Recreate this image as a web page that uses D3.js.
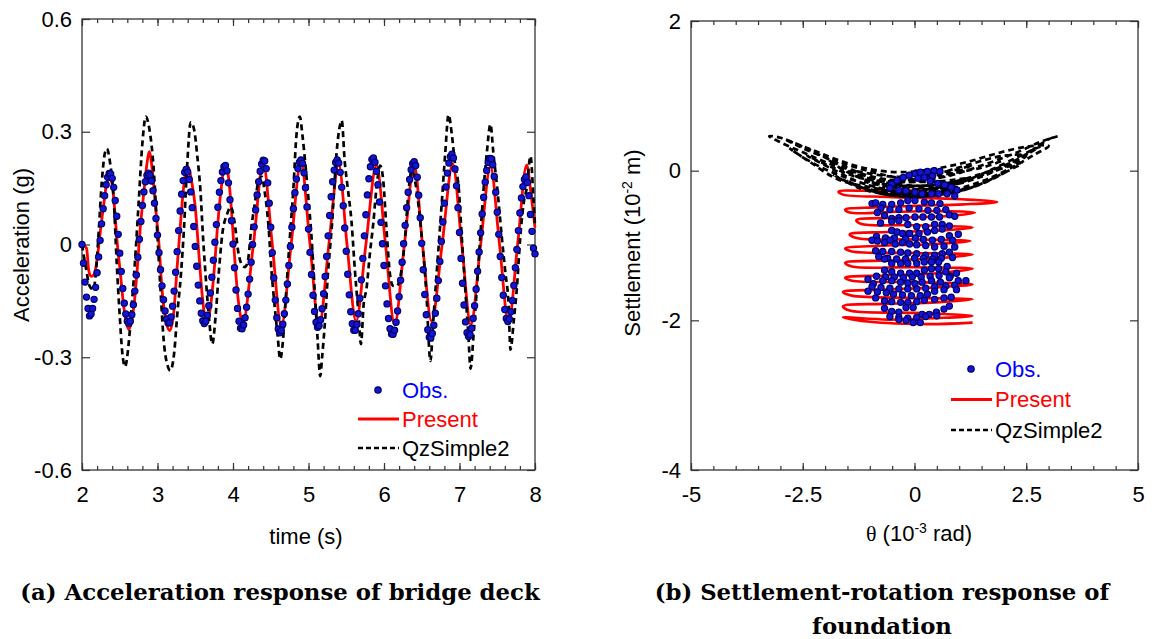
<!DOCTYPE html>
<html>
<head>
<meta charset="utf-8">
<script src="https://cdn.jsdelivr.net/npm/d3@7"></script>
<style>
  body { margin: 0; background: #fff; }
</style>
</head>
<body>
<svg></svg>
<script>
const size = {w: 1152, h: 639};

// ---------- (a) acceleration of bridge deck ----------
// observed record, sampled every 0.02 s from t = 2 s
const obsStart = 2.0, obsStep = 0.02;
const obsAcc = [
  0.000,-0.050,-0.100,-0.140,-0.170,-0.190,-0.185,-0.170,-0.146,-0.114,
  -0.075,-0.033,0.011,0.055,0.095,0.130,0.159,0.179,0.189,0.188,
  0.176,0.152,0.117,0.075,0.027,-0.023,-0.072,-0.117,-0.156,-0.185,
  -0.204,-0.210,-0.204,-0.187,-0.160,-0.124,-0.081,-0.034,0.014,0.061,
  0.104,0.140,0.167,0.184,0.190,0.185,0.169,0.143,0.110,0.069,
  0.025,-0.022,-0.067,-0.110,-0.147,-0.177,-0.198,-0.209,-0.208,-0.193,
  -0.164,-0.124,-0.074,-0.019,0.037,0.089,0.134,0.170,0.192,0.200,
  0.193,0.173,0.140,0.098,0.048,-0.005,-0.058,-0.108,-0.150,-0.183,
  -0.203,-0.210,-0.204,-0.188,-0.163,-0.129,-0.087,-0.042,0.006,0.053,
  0.099,0.139,0.170,0.193,0.207,0.210,0.196,0.164,0.119,0.063,
  0.001,-0.062,-0.121,-0.170,-0.204,-0.223,-0.224,-0.214,-0.195,-0.167,
  -0.132,-0.092,-0.047,0.000,0.047,0.092,0.132,0.167,0.195,0.214,
  0.224,0.222,0.202,0.164,0.110,0.046,-0.022,-0.089,-0.148,-0.195,
  -0.225,-0.235,-0.229,-0.212,-0.184,-0.148,-0.105,-0.056,-0.005,0.046,
  0.095,0.138,0.174,0.202,0.219,0.225,0.216,0.191,0.151,0.100,
  0.041,-0.021,-0.080,-0.135,-0.178,-0.207,-0.220,-0.216,-0.200,-0.171,
  -0.131,-0.085,-0.032,0.023,0.077,0.127,0.167,0.198,0.218,0.225,
  0.217,0.192,0.152,0.103,0.044,-0.018,-0.079,-0.134,-0.179,-0.211,
  -0.228,-0.228,-0.213,-0.184,-0.143,-0.094,-0.037,0.023,0.079,0.132,
  0.175,0.207,0.226,0.230,0.219,0.195,0.159,0.113,0.059,0.002,
  -0.056,-0.110,-0.158,-0.197,-0.224,-0.238,-0.239,-0.228,-0.207,-0.177,
  -0.139,-0.095,-0.047,0.002,0.051,0.098,0.139,0.173,0.199,0.215,
  0.220,0.210,0.179,0.131,0.071,0.003,-0.067,-0.133,-0.187,-0.227,
  -0.247,-0.249,-0.237,-0.215,-0.183,-0.143,-0.096,-0.045,0.008,0.060,
  0.110,0.153,0.190,0.217,0.234,0.240,0.230,0.201,0.156,0.098,
  0.032,-0.037,-0.103,-0.161,-0.206,-0.235,-0.245,-0.240,-0.223,-0.197,
  -0.163,-0.119,-0.071,-0.020,0.031,0.081,0.126,0.166,0.197,0.218,
  0.229,0.228,0.212,0.181,0.139,0.086,0.027,-0.032,-0.088,-0.135,
  -0.173,-0.197,-0.205,-0.198,-0.179,-0.149,-0.109,-0.062,-0.013,0.037,
  0.084,0.124,0.154,0.173,0.180,0.165,0.130,0.080,0.035,-0.010,
  -0.025
];

const presTime = [2.00,2.06,2.09,2.12,2.16,2.20,2.24,2.29,2.33,2.37,
  2.40,2.43,2.46,2.51,2.55,2.59,2.62,2.65,2.69,2.73,
  2.77,2.82,2.86,2.89,2.93,2.97,3.02,3.06,3.11,3.16,
  3.21,3.26,3.31,3.35,3.40,3.45,3.50,3.55,3.59,3.64,
  3.69,3.75,3.80,3.85,3.89,3.94,3.98,4.02,4.06,4.10,
  4.13,4.27,4.40,4.52,4.64,4.77,4.90,5.02,5.14,5.27,
  5.40,5.51,5.63,5.76,5.90,6.02,6.14,6.27,6.40,6.51,
  6.63,6.77,6.91,7.03,7.15,7.28,7.41,7.53,7.65,7.77,
  7.89,7.95,8.00];
const presAcc = [0.000,-0.010,-0.070,-0.085,-0.080,-0.040,0.030,0.110,0.165,0.176,
  0.160,0.100,0.020,-0.080,-0.160,-0.210,-0.226,-0.210,-0.160,-0.070,
  0.040,0.140,0.215,0.247,0.200,0.108,0.000,-0.120,-0.200,-0.229,
  -0.190,-0.060,0.070,0.160,0.207,0.170,0.100,-0.030,-0.130,-0.200,
  -0.180,-0.070,0.060,0.160,0.214,0.180,0.090,-0.030,-0.130,-0.190,
  -0.208,0.000,0.216,0.000,-0.217,0.000,0.220,0.000,-0.217,0.000,
  0.213,0.000,-0.204,0.000,0.211,0.000,-0.213,0.000,0.211,0.000,
  -0.204,0.000,0.214,0.000,-0.213,0.000,0.207,0.000,-0.208,0.000,
  0.211,0.130,0.045];

const qzTime = [2.00,2.05,2.10,2.15,2.19,2.22,2.26,2.30,2.33,2.37,
  2.42,2.46,2.50,2.53,2.57,2.62,2.66,2.71,2.75,2.80,
  2.845,2.89,2.95,3.00,3.04,3.08,3.13,3.17,3.22,3.26,
  3.31,3.35,3.39,3.44,3.48,3.53,3.57,3.60,3.64,3.68,
  3.725,3.77,3.81,3.86,3.92,3.97,4.02,4.07,4.12,4.16,
  4.20,4.24,4.29,4.34,4.38,4.42,4.47,4.51,4.55,4.59,
  4.625,4.66,4.70,4.75,4.80,4.84,4.885,4.92,4.96,5.00,
  5.04,5.08,5.12,5.155,5.18,5.22,5.26,5.31,5.37,5.42,
  5.44,5.48,5.52,5.57,5.615,5.66,5.695,5.73,5.77,5.81,
  5.86,5.90,5.95,5.99,6.03,6.08,6.12,6.17,6.23,6.28,
  6.32,6.37,6.41,6.46,6.50,6.54,6.57,6.59,6.615,6.65,
  6.70,6.765,6.81,6.855,6.90,6.94,6.99,7.03,7.075,7.12,
  7.145,7.19,7.23,7.275,7.32,7.36,7.41,7.45,7.50,7.56,
  7.605,7.65,7.675,7.72,7.76,7.805,7.85,7.89,7.94,7.98,
  8.00];
const qzAcc = [0.00,-0.06,-0.11,-0.12,-0.06,0.03,0.16,0.24,0.255,0.22,
  0.12,-0.05,-0.19,-0.28,-0.325,-0.26,-0.16,-0.02,0.11,0.27,
  0.34,0.31,0.20,0.02,-0.12,-0.25,-0.32,-0.335,-0.29,-0.19,
  -0.08,0.04,0.20,0.325,0.31,0.23,0.14,0.03,-0.09,-0.19,
  -0.265,-0.19,-0.08,0.03,0.08,0.10,0.06,-0.02,-0.055,-0.06,
  -0.04,0.04,0.11,0.17,0.18,0.14,0.05,-0.07,-0.16,-0.24,
  -0.305,-0.26,-0.14,0.01,0.15,0.29,0.34,0.29,0.21,0.12,
  0.02,-0.115,-0.25,-0.35,-0.30,-0.20,-0.07,0.05,0.24,0.32,
  0.33,0.22,0.15,0.06,-0.07,-0.18,-0.265,-0.16,-0.115,-0.03,
  0.06,0.15,0.21,0.17,0.05,-0.08,-0.11,-0.11,-0.07,0.02,
  0.13,0.20,0.17,0.10,0.02,-0.07,-0.16,-0.25,-0.31,-0.21,
  -0.07,0.11,0.24,0.345,0.29,0.215,0.15,0.02,-0.115,-0.25,
  -0.33,-0.23,-0.115,0.02,0.15,0.24,0.32,0.24,0.15,0.02,
  -0.07,-0.16,-0.28,-0.20,-0.115,0.02,0.11,0.15,0.235,0.12,
  0.05];

// ---------- (b) settlement vs rotation ----------
// [rotation 1e-3 rad, settlement 1e-2 m]
const obsRotSet = [
  [-0.51,-0.18],[-0.39,-0.13],[-0.25,-0.09],[-0.12,-0.06],[0.02,-0.04],[0.13,-0.02],[0.29,-0.01],[0.44,0.00],[0.57,-0.01],[0.40,-0.07],[0.22,-0.09],[0.08,-0.10],
  [0.35,-0.14],[0.52,-0.17],[0.68,-0.19],[0.82,-0.22],[0.95,-0.26],
  [-0.55,-0.23],[-0.35,-0.26],[-0.19,-0.27],[0.01,-0.29],[0.17,-0.31],[0.38,-0.31],[0.54,-0.31],[0.73,-0.31],[0.90,-0.34],
  [-0.95,-0.44],[-0.87,-0.43],[-0.71,-0.45],[-0.51,-0.45],[-0.31,-0.43],[-0.15,-0.40],[0.01,-0.40],[0.22,-0.42],[0.38,-0.43],[0.57,-0.44],
  [-0.75,-0.50],[-0.55,-0.52],[-0.35,-0.52],[-0.12,-0.50],[0.10,-0.51],[0.30,-0.53],[0.50,-0.53],[0.70,-0.52],
  [-0.83,-0.56],[-0.67,-0.60],[-0.51,-0.64],[-0.35,-0.63],[-0.19,-0.63],[0.01,-0.62],[0.19,-0.62],[0.38,-0.62],[0.56,-0.62],[0.78,-0.59],[0.90,-0.61],
  [-0.76,-0.70],[-0.51,-0.68],[-0.35,-0.67],[-0.15,-0.72],[0.05,-0.75],[0.25,-0.75],[0.45,-0.72],[0.62,-0.72],[0.78,-0.74],
  [-0.51,-0.80],[-0.39,-0.82],[-0.27,-0.84],[-0.11,-0.84],[0.10,-0.84],[0.29,-0.82],[0.45,-0.80],[0.62,-0.78],[0.78,-0.87],[0.98,-0.85],
  [-0.85,-0.88],[-0.65,-0.90],[-0.45,-0.90],[-0.20,-0.91],[0.02,-0.90],[0.20,-0.92],[0.40,-0.93],[0.60,-0.92],[0.85,-0.93],
  [-0.95,-0.93],[-0.83,-0.94],[-0.67,-0.96],[-0.55,-0.93],[-0.43,-0.98],[-0.27,-0.96],[-0.11,-0.98],[0.05,-0.99],[0.25,-1.00],[0.45,-1.02],[0.66,-1.01],[0.90,-1.02],
  [-0.87,-1.07],[-0.71,-1.08],[-0.51,-1.08],[-0.31,-1.09],[-0.15,-1.10],[0.05,-1.11],[0.25,-1.13],[0.45,-1.13],[0.62,-1.11],[0.78,-1.09],
  [-0.80,-1.15],[-0.60,-1.17],[-0.40,-1.18],[-0.20,-1.18],[0.00,-1.17],[0.20,-1.17],[0.40,-1.18],[0.60,-1.17],[0.85,-1.16],
  [-0.67,-1.18],[-0.51,-1.24],[-0.31,-1.24],[-0.15,-1.24],[0.05,-1.24],[0.22,-1.22],[0.38,-1.22],[0.54,-1.22],[0.73,-1.28],
  [-0.67,-1.33],[-0.51,-1.35],[-0.31,-1.37],[-0.11,-1.37],[0.05,-1.37],[0.22,-1.33],[0.38,-1.31],[0.54,-1.31],[0.70,-1.35],[0.94,-1.37],
  [-0.85,-1.41],[-0.65,-1.42],[-0.45,-1.42],[-0.25,-1.43],[-0.05,-1.42],[0.15,-1.42],[0.35,-1.41],[0.55,-1.40],[0.80,-1.41],
  [-1.04,-1.45],[-0.92,-1.51],[-0.71,-1.47],[-0.51,-1.47],[-0.31,-1.49],[-0.15,-1.50],[0.01,-1.51],[0.17,-1.49],[0.38,-1.47],[0.58,-1.49],[0.78,-1.43],[0.98,-1.47],[1.15,-1.47],
  [-0.95,-1.55],[-0.75,-1.56],[-0.55,-1.57],[-0.35,-1.58],[-0.15,-1.58],[0.05,-1.58],[0.25,-1.57],[0.45,-1.55],[0.70,-1.54],[0.90,-1.53],
  [-1.04,-1.61],[-0.83,-1.62],[-0.63,-1.63],[-0.47,-1.65],[-0.27,-1.66],[-0.07,-1.67],[0.13,-1.67],[0.29,-1.65],[0.45,-1.61],[0.66,-1.59],[0.94,-1.59],
  [-0.87,-1.70],[-0.67,-1.74],[-0.51,-1.75],[-0.31,-1.76],[-0.15,-1.76],[0.05,-1.75],[0.22,-1.73],[0.45,-1.72],[0.66,-1.70],[0.82,-1.69],
  [-0.67,-1.84],[-0.51,-1.88],[-0.35,-1.89],[-0.19,-1.83],[-0.03,-1.83],[0.17,-1.92],[0.33,-1.92],[0.49,-1.89],[0.66,-1.85],[0.78,-1.81],
  [-0.55,-1.95],[-0.35,-1.96],[-0.15,-1.97],[0.05,-1.96],[0.25,-1.95],[0.50,-1.94],
  [-0.35,-1.99],[-0.19,-2.00],[-0.03,-2.03],[0.13,-2.03]
];

const presRotSet = [
  [0,0],[0.3,-0.1],[0.6,-0.2],[0.1,-0.26],[-0.8,-0.27],[-1.7,-0.28],[-1.6,-0.32],[-0.6,-0.35],[0.5,-0.37],[1.3,-0.39],
  [1.85,-0.42],[1.1,-0.45],[0,-0.47],[-0.9,-0.49],[-1.55,-0.52],[-1.45,-0.56],[-0.4,-0.55],[0.6,-0.54],[1.35,-0.56],[0.7,-0.61],
  [-0.4,-0.63],[-1.3,-0.66],[-1.2,-0.71],[0,-0.73],[1.3,-0.76],[0.6,-0.8],[-0.6,-0.82],[-1.45,-0.85],[-1.3,-0.9],[0,-0.92],
  [1.25,-0.94],[0.5,-0.98],[-0.6,-1.0],[-1.55,-1.04],[-1.4,-1.08],[0,-1.1],[1.3,-1.12],[0.5,-1.17],[-0.6,-1.2],[-1.55,-1.23],
  [-1.4,-1.28],[0,-1.29],[1.3,-1.31],[0.5,-1.37],[-0.6,-1.4],[-1.55,-1.43],[-1.4,-1.47],[0,-1.49],[1.3,-1.52],[0.5,-1.56],
  [-0.7,-1.59],[-1.6,-1.62],[-1.4,-1.67],[0,-1.7],[1.3,-1.72],[0.5,-1.76],[-0.7,-1.78],[-1.6,-1.81],[-1.45,-1.87],[0,-1.9],
  [1.3,-1.94],[0.5,-1.97],[-0.6,-1.99],[-1.6,-1.96],[-1.0,-2.02],[0.3,-2.05],[1.3,-2.03]
];

const qzRotSet = [
  [0,0],[0.5,-0.02],[1.0,0.02],[1.3,0.08],
  [0.8,-0.05],[0,-0.15],[-0.8,-0.12],[-1.5,0.02],[-2.0,0.18],
  [-1.5,-0.02],[-0.8,-0.18],[0,-0.25],[0.8,-0.2],[1.6,-0.02],[2.3,0.18],[2.8,0.32],
  [2.2,0.12],[1.4,-0.06],[0.6,-0.18],[0,-0.2],[-0.8,-0.14],[-1.6,0.02],[-2.4,0.22],[-3.0,0.38],[-3.25,0.46],
  [-3.0,0.44],[-2.5,0.3],[-2.0,0.18],[-1.4,0.06],[-0.8,-0.04],[0,-0.12],[0.7,-0.08],[1.5,0.07],[2.2,0.22],[2.8,0.38],[3.2,0.46],
  [3.0,0.42],[2.5,0.22],[2.0,0.06],[1.4,-0.08],[0.7,-0.2],[0,-0.28],[-0.7,-0.24],[-1.4,-0.12],[-2.0,0.02],[-2.5,0.18],[-2.8,0.3],
  [-2.3,0.1],[-1.7,-0.12],[-1.0,-0.22],[0,-0.3],[0.9,-0.25],[1.6,-0.12],[2.2,0.05],[2.7,0.22],[3.0,0.33],
  [2.5,0.32],[1.9,0.24],[1.2,0.12],[0.5,0.03],[-0.3,-0.02],[-1.0,0.02],[-1.7,0.14],[-2.3,0.28],[-2.9,0.42],
  [-2.5,0.32],[-1.8,0.12],[-1.0,-0.08],[-0.3,-0.2],[0.5,-0.22],[1.2,-0.14],[1.9,0.02],[2.5,0.2],
  [2.0,0.2],[1.2,0.08],[0.4,-0.06],[-0.4,-0.14],[-1.2,-0.1],[-1.9,0.06],[-2.4,0.2],
  [-1.9,0.04],[-1.2,-0.16],[-0.4,-0.28],[0.4,-0.32],[1.2,-0.24],[1.9,-0.06],[2.4,0.1],
  [1.8,0.0],[1.0,-0.16],[0.2,-0.28],[-0.6,-0.3],[-1.3,-0.2],[-1.8,-0.06],
  [-1.2,-0.24],[-0.5,-0.33],[0.3,-0.34],[1.0,-0.28],[1.6,-0.14],[2.1,0.0],
  [1.4,-0.2],[0.6,-0.3],[-0.2,-0.32],[-0.9,-0.28],[-1.5,-0.14],
  [-0.8,-0.3],[0,-0.35],[0.8,-0.3],[1.3,-0.22],
  [0.6,-0.3],[-0.3,-0.33],[-1.0,-0.25],
  [-0.4,-0.3],[0.4,-0.28],[1.0,-0.22],
  [0.3,-0.25],[-0.5,-0.22],[-1.1,-0.15],
  [-0.3,-0.2],[0.6,-0.18],[1.2,-0.1],
  [0.4,-0.15],[-0.6,-0.12],[-1.4,0.0],
  [-0.5,-0.08],[0.5,-0.06],[1.5,0.04],[2.0,0.14]
];

// ticks and labels
const accTicksX = [2, 3, 4, 5, 6, 7, 8];
const accTicksY = [-0.6, -0.3, 0, 0.3, 0.6];
const rotTicksX = [-5, -2.5, 0, 2.5, 5];
const rotTicksY = [-4, -2, 0, 2];
const legendNames = ['Obs.', 'Present', 'QzSimple2'];

const obsFill = '#1414d8', obsEdge = '#00006a';
const presColor = '#ff0000', qzColor = '#000';
const sansFont = '"Liberation Sans", Arial, sans-serif';
const capFont = '"DejaVu Serif", "Liberation Serif", serif';

const svg = d3.select('svg')
  .attr('width', size.w).attr('height', size.h)
  .style('font-family', sansFont);

function drawFrame(g, x, y, xMajor, xMinor, yMajor) {
  const [x0, x1] = x.range(), [y0, y1] = y.range();
  g.append('rect')
    .attr('x', x0).attr('y', y1)
    .attr('width', x1 - x0).attr('height', y0 - y1)
    .attr('fill', 'none').attr('stroke', '#333').attr('stroke-width', 1.3);

  g.append('g').attr('transform', `translate(0,${y0})`)
    .call(d3.axisBottom(x).tickValues(xMinor).tickSize(-4).tickFormat(''));
  g.append('g').attr('transform', `translate(0,${y1})`)
    .call(d3.axisTop(x).tickValues(xMinor).tickSize(-4).tickFormat(''));
  g.append('g').attr('transform', `translate(0,${y0})`)
    .call(d3.axisBottom(x).tickValues(xMajor).tickSize(-7).tickPadding(16).tickFormat(String));
  g.append('g').attr('transform', `translate(0,${y1})`)
    .call(d3.axisTop(x).tickValues(xMajor).tickSize(-7).tickFormat(''));
  g.append('g').attr('transform', `translate(${x0},0)`)
    .call(d3.axisLeft(y).tickValues(yMajor).tickSize(-8).tickPadding(10).tickFormat(String));
  g.append('g').attr('transform', `translate(${x1},0)`)
    .call(d3.axisRight(y).tickValues(yMajor).tickSize(-8).tickFormat(''));

  g.selectAll('.domain').remove();
  g.selectAll('.tick line').attr('stroke', '#333').attr('stroke-width', 1.2);
  g.selectAll('.tick text')
    .style('font-family', sansFont)
    .attr('font-size', 22)
    .attr('fill', '#000');
}

function drawLegend(g, lx, ly, gap) {
  const rows = g.append('g').attr('transform', `translate(${lx},${ly})`);
  legendNames.forEach((name, i) => {
    const row = rows.append('g').attr('transform', `translate(0,${i * gap})`);
    if (i === 0) {
      row.append('circle').attr('cx', -24).attr('cy', 0).attr('r', 3.2)
        .attr('fill', obsFill).attr('stroke', obsEdge).attr('stroke-width', 1.2);
    } else {
      row.append('line').attr('x1', -44).attr('x2', -3).attr('y1', 0).attr('y2', 0)
        .attr('stroke', i === 1 ? presColor : qzColor)
        .attr('stroke-width', i === 1 ? 2.8 : 2.4)
        .attr('stroke-dasharray', i === 1 ? null : '5,3');
    }
    row.append('text').attr('x', 0).attr('y', 0).attr('dy', '0.36em')
      .attr('font-size', 22)
      .attr('fill', ['#0000ff', presColor, '#000'][i])
      .text(name);
  });
}

// ----- panel (a) -----
const xA = d3.scaleLinear().domain([2, 8]).range([82, 535]);
const yA = d3.scaleLinear().domain([-0.6, 0.6]).range([470, 19]);
const gA = svg.append('g');

drawFrame(gA, xA, yA, accTicksX, d3.range(2, 8.001, 0.2), accTicksY);

const lineA = d3.line().x(d => xA(d[0])).y(d => yA(d[1])).curve(d3.curveMonotoneX);

gA.append('path')
  .datum(d3.zip(presTime, presAcc))
  .attr('d', lineA)
  .attr('fill', 'none').attr('stroke', presColor).attr('stroke-width', 2.8);

gA.append('path')
  .datum(d3.zip(qzTime, qzAcc))
  .attr('d', lineA)
  .attr('fill', 'none').attr('stroke', qzColor).attr('stroke-width', 2.7)
  .attr('stroke-dasharray', '6,4');

gA.append('g').selectAll('circle')
  .data(obsAcc)
  .join('circle')
  .attr('cx', (d, i) => xA(obsStart + i * obsStep))
  .attr('cy', d => yA(d))
  .attr('r', 3.1)
  .attr('fill', obsFill).attr('stroke', obsEdge).attr('stroke-width', 1.2);

drawLegend(gA, 402, 390, 29);

gA.append('text')
  .attr('transform', 'translate(29,245) rotate(-90)')
  .attr('text-anchor', 'middle').attr('font-size', 22)
  .text('Acceleration (g)');
gA.append('text')
  .attr('x', 306).attr('y', 544)
  .attr('text-anchor', 'middle').attr('font-size', 22)
  .text('time (s)');

// ----- panel (b) -----
const xB = d3.scaleLinear().domain([-5, 5]).range([691, 1138]);
const yB = d3.scaleLinear().domain([-4, 2]).range([470, 21]);
const gB = svg.append('g');

drawFrame(gB, xB, yB, rotTicksX, d3.range(-5, 5.001, 0.5), rotTicksY);

const lineB = d3.line().x(d => xB(d[0])).y(d => yB(d[1])).curve(d3.curveCatmullRom.alpha(0.5));

gB.append('path')
  .datum(presRotSet)
  .attr('d', lineB)
  .attr('fill', 'none').attr('stroke', presColor).attr('stroke-width', 2.6);

gB.append('path')
  .datum(qzRotSet)
  .attr('d', lineB)
  .attr('fill', 'none').attr('stroke', qzColor).attr('stroke-width', 2.7)
  .attr('stroke-dasharray', '6,4');

gB.append('g').selectAll('circle')
  .data(obsRotSet)
  .join('circle')
  .attr('cx', d => xB(d[0]))
  .attr('cy', d => yB(d[1]))
  .attr('r', 3.1)
  .attr('fill', obsFill).attr('stroke', obsEdge).attr('stroke-width', 1.2);

drawLegend(gB, 995, 369, 30.5);

const setLab = gB.append('text')
  .attr('transform', 'translate(640,243) rotate(-90)')
  .attr('text-anchor', 'middle').attr('font-size', 22);
setLab.append('tspan').text('Settlement (10');
setLab.append('tspan').attr('dy', -8).attr('font-size', 14).text('-2');
setLab.append('tspan').attr('dy', 8).text(' m)');

const rotLab = gB.append('text')
  .attr('x', 919).attr('y', 541)
  .attr('text-anchor', 'middle').attr('font-size', 22);
rotLab.append('tspan').style('font-family', '"Liberation Serif", serif').text('θ');
rotLab.append('tspan').text(' (10');
rotLab.append('tspan').attr('dy', -8).attr('font-size', 14).text('-3');
rotLab.append('tspan').attr('dy', 8).text(' rad)');

// ----- captions -----
const captions = [
  {text: '(a) Acceleration response of bridge deck', x: 280, y: 600},
  {text: '(b) Settlement-rotation response of', x: 882, y: 600},
  {text: 'foundation', x: 882, y: 634}
];
svg.append('g').selectAll('text')
  .data(captions)
  .join('text')
  .attr('x', d => d.x).attr('y', d => d.y)
  .attr('text-anchor', 'middle')
  .style('font-family', capFont)
  .attr('font-weight', 'bold').attr('font-size', 22.8)
  .text(d => d.text);
</script>
</body>
</html>
